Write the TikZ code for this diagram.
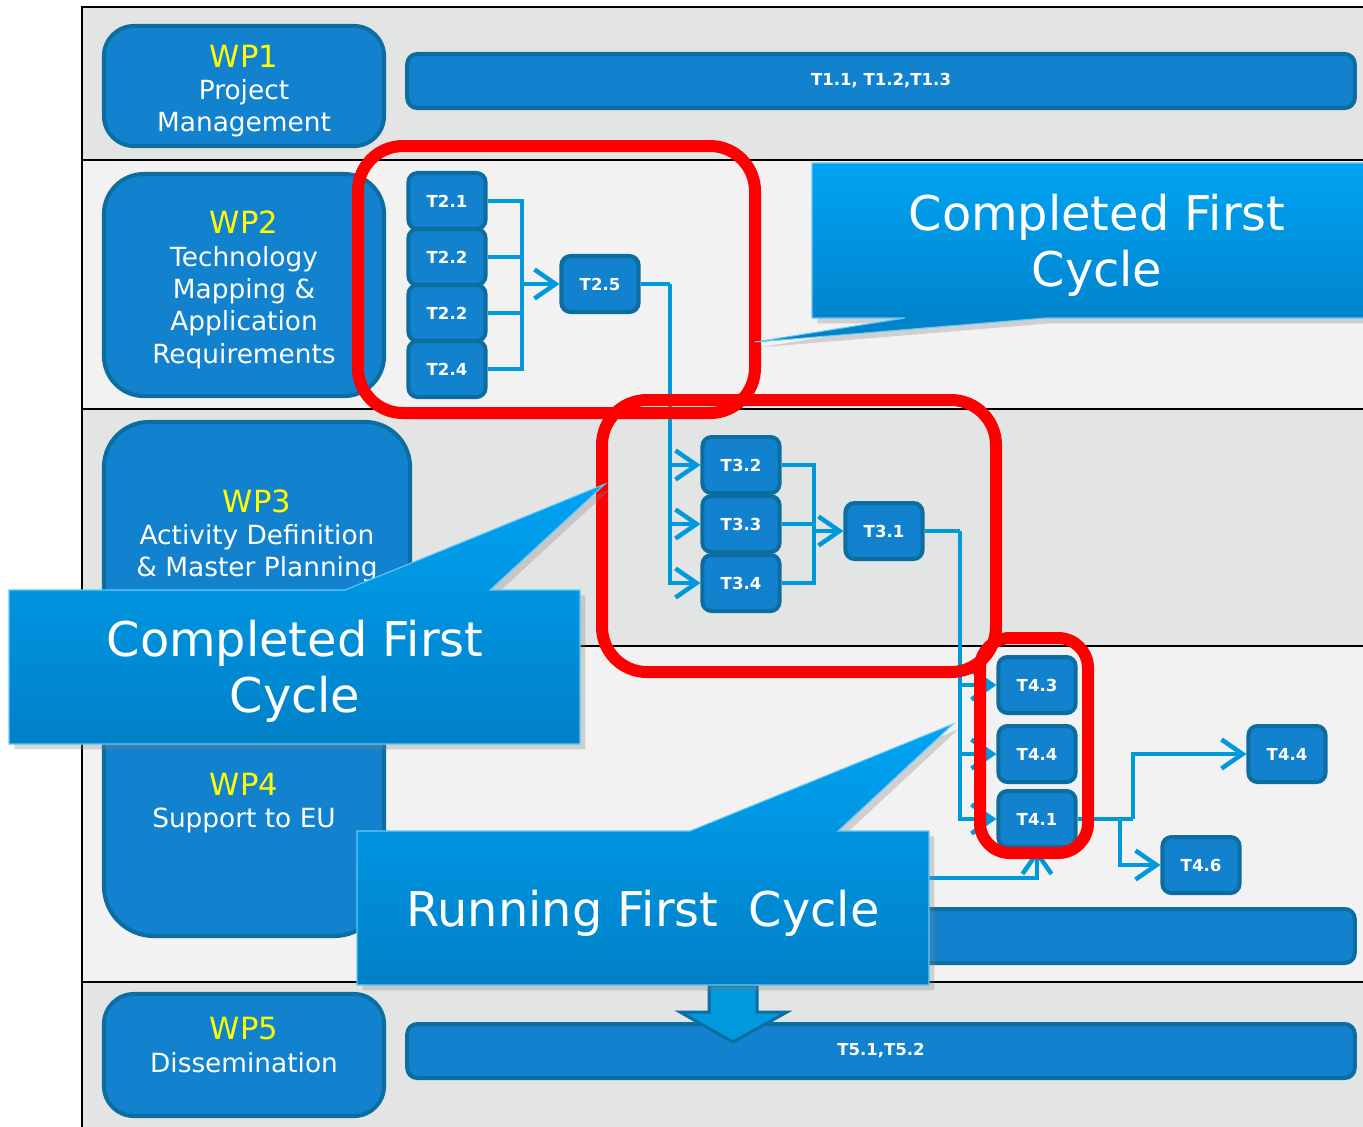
\documentclass[tikz,border=0pt]{standalone}
\usepackage{fontspec}
\setmainfont{DejaVu Sans}
\usetikzlibrary{arrows.meta, shadows}
\definecolor{wpblue}{HTML}{1282CE}
\definecolor{wpedge}{HTML}{0C6DA0}
\definecolor{linkblue}{HTML}{0099DC}
\definecolor{bandgray}{HTML}{E3E5E4}
\definecolor{bandlight}{HTML}{F2F2F2}
\definecolor{calltop}{HTML}{00A3F3}
\definecolor{callbot}{HTML}{0080C6}
\definecolor{wpyellow}{HTML}{FFFF00}
\definecolor{cycred}{HTML}{FF0000}
\newcommand{\wptitle}[1]{{\color{wpyellow}\fontsize{8.7}{9.9}\selectfont #1}}

\begin{document}
\begin{tikzpicture}[x=0.01cm, y=-0.01cm,
  wpbox/.style={draw=wpedge, fill=wpblue, line width=0.4mm, rounded corners=0.3cm},
  wptext/.style={text=white, align=center, font=\fontsize{7.5}{9.2}\selectfont},
  task/.style={draw=wpedge, fill=wpblue, line width=0.4mm, rounded corners=0.9mm,
    minimum width=0.77cm, minimum height=0.56cm, inner sep=0pt, text=white,
    font=\bfseries\fontsize{4.7}{5}\selectfont},
  bar/.style={draw=wpedge, fill=wpblue, line width=0.4mm, rounded corners=1mm,
    inner sep=0pt, minimum width=9.47cm, minimum height=0.54cm, text=white,
    font=\bfseries\fontsize{4.7}{5}\selectfont},
  link/.style={draw=linkblue, line width=0.45mm},
  flow/.style={link, -{Straight Barb[length=2.1mm, width=2.9mm]}},
  redloop/.style={draw=cycred, line width=1.2mm, rounded corners=0.45cm},
  callout/.style={top color=calltop, bottom color=callbot, draw=calltop!60!white,
    line width=0.3pt, drop shadow={shadow xshift=1.5pt, shadow yshift=-1.5pt, opacity=0.3}},
  calltext/.style={text=white, align=center, font=\fontsize{13.6}{16}\selectfont}]
  \useasboundingbox (0,0) rectangle (1363,1126);

  % bands
  \fill[bandgray] (82,7) rectangle (1370,160);
  \fill[bandlight] (82,160) rectangle (1370,409);
  \fill[bandgray] (82,409) rectangle (1370,646);
  \fill[bandlight] (82,646) rectangle (1370,982);
  \fill[bandgray] (82,982) rectangle (1370,1130);
  \draw[line width=0.25mm] (82,1130) -- (82,7) -- (1370,7);
  \foreach \y in {160,409,646,982}
    \draw[line width=0.25mm] (82,\y) -- (1370,\y);

  % work packages
  \node[wpbox, minimum width=2.8cm, minimum height=1.2cm] (wp1box) at (244,86) {};
  \node[wptext] (wp1) at (244,91) {\wptitle{WP1}\\Project\\Management};
  \node[wpbox, minimum width=2.8cm, minimum height=2.22cm, rounded corners=0.4cm] (wp2box) at (244,285) {};
  \node[wptext] (wp2) at (244,290) {\wptitle{WP2}\\Technology\\Mapping \&\\Application\\Requirements};
  \node[wpbox, minimum width=3.06cm, minimum height=2.9cm, rounded corners=0.45cm] (wp3box) at (257,567) {};
  \node[wptext] (wp3) at (257,536) {\wptitle{WP3}\\Activity Definition\\\& Master Planning};
  \node[wpbox, minimum width=2.8cm, minimum height=2.86cm, rounded corners=0.5cm] (wp4box) at (244,793) {};
  \node[wptext] (wp4) at (244,803) {\wptitle{WP4}\\Support to EU};
  \node[wpbox, minimum width=2.8cm, minimum height=1.22cm] (wp5box) at (244,1055) {};
  \node[wptext] (wp5) at (244,1045) {\wptitle{WP5}\\Dissemination};

  % task bars
  \node[bar] (t1bar) at (881,81) {T1.1, T1.2,T1.3};
  \node[bar] (t4bar) at (881,936) {};
  \node[bar] (t5bar) at (881,1051) {T5.1,T5.2};

  % tasks
  \node[task] (t21) at (447,201) {T2.1};
  \node[task] (t22a) at (447,257) {T2.2};
  \node[task] (t22b) at (447,313) {T2.2};
  \node[task] (t24) at (447,369) {T2.4};
  \node[task] (t25) at (600,284) {T2.5};
  \node[task] (t32) at (741,465) {T3.2};
  \node[task] (t33) at (741,524) {T3.3};
  \node[task] (t34) at (741,583) {T3.4};
  \node[task] (t31) at (884,531) {T3.1};
  \node[task] (t43) at (1037,685) {T4.3};
  \node[task] (t44) at (1037,754) {T4.4};
  \node[task] (t41) at (1037,819) {T4.1};
  \node[task] (t44r) at (1287,754) {T4.4};
  \node[task] (t46) at (1201,865) {T4.6};

  % links
  \coordinate (t2bus) at (522,284);
  \foreach \t in {t21,t22a,t22b,t24}
    \draw[link] (\t) -| (t2bus);
  \draw[flow] (t2bus) -- (t25);
  \coordinate (t3bus) at (670,284);
  \draw[link] (t25) -- (t3bus);
  \foreach \t in {t32,t33,t34}
    \draw[flow] (t3bus) |- (\t);
  \coordinate (t3join) at (814,531);
  \foreach \t in {t32,t33,t34}
    \draw[link] (\t) -| (t3join);
  \draw[flow] (t3join) -- (t31);
  \coordinate (t4bus) at (960,531);
  \draw[link] (t31) -- (t4bus);
  \foreach \t in {t43,t44,t41}
    \draw[flow] (t4bus) |- (\t);
  \coordinate (t4up) at (1133,819);
  \coordinate (t4down) at (1120,819);
  \draw[link] (t41) -- (t4up);
  \draw[flow] (t4up) |- (t44r);
  \draw[flow] (t4down) |- (t46);
  \coordinate (runout) at (929,878);
  \draw[flow] (runout) -| (t41);

  % cycles
  \draw[redloop] (358,146) rectangle (755,413);
  \draw[redloop] (602,400) rectangle (996,672);
  \draw[redloop, rounded corners=0.3cm] (980,638) rectangle (1088,853);

  % callouts
  \path[callout] (812,163) -- (1375,163) -- (1375,318) -- (1045,318) -- (755,342)
    -- (905,318) -- (812,318) -- cycle;
  \node[calltext] (done2) at (1097,245) {Completed First\\Cycle};
  \path[callout] (9,590) -- (345,590) -- (605,484) -- (490,590) -- (580,590)
    -- (580,744) -- (9,744) -- cycle;
  \node[calltext] (done3) at (295,671) {Completed First\\Cycle};
  \path[fill=linkblue, draw=wpedge, line width=0.3mm] (709,985) -- (757,985) -- (757,1012)
    -- (787,1012) -- (733,1042) -- (680,1012) -- (709,1012) -- cycle;
  \path[callout] (357,831) -- (690,831) -- (953,724) -- (838,831) -- (929,831)
    -- (929,985) -- (357,985) -- cycle;
  \node[calltext] (run4) at (643,913) {Running First\ \ Cycle};
\end{tikzpicture}
\end{document}
